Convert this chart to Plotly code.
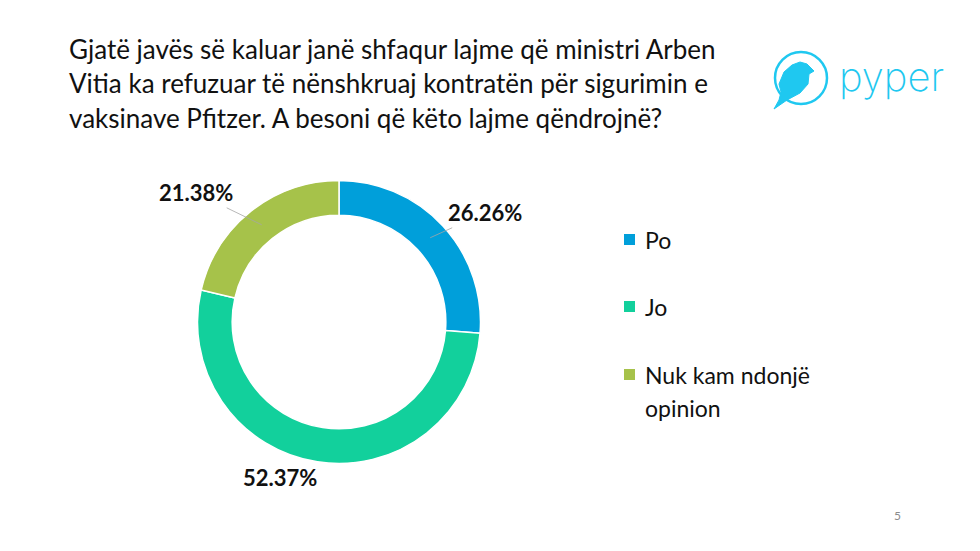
import math
import plotly.graph_objects as go

# ---- data ----
categories = ["Po", "Jo", "Nuk kam ndonjë opinion"]
legend_lines = [["Po"], ["Jo"], ["Nuk kam ndonjë", "opinion"]]
values = [26.26, 52.37, 21.38]
colors = ["#009FDA", "#12D09C", "#A6C24A"]
title_lines = [
    "Gjatë javës së kaluar janë shfaqur lajme që ministri Arben",
    "Vitia ka refuzuar të nënshkruaj kontratën për sigurimin e",
    "vaksinave Pfitzer. A besoni që këto lajme qëndrojnë?",
]

W, H = 980, 551
CX, CY, R = 339, 322, 141.5
HOLE = 0.755
FONT = "Lato"


def px(x):
    return x / W


def py(y):
    return 1 - y / H


fig = go.Figure()
fig.add_trace(go.Pie(
    labels=categories, values=values, hole=HOLE, sort=False,
    direction="clockwise", rotation=0,
    marker=dict(colors=colors, line=dict(color="white", width=1.5)),
    textinfo="none", hoverinfo="label+percent", showlegend=False,
    domain=dict(x=[px(CX - R), px(CX + R)], y=[py(CY + R), py(CY - R)]),
))

annotations = []
shapes = []

# title
for i, line in enumerate(title_lines):
    annotations.append(dict(
        x=px(67), y=py(49 + i * 34.5), xref="paper", yref="paper",
        xanchor="left", yanchor="middle", showarrow=False, text=line,
        font=dict(family=FONT, size=26, color="#111111")))

# data labels
total = sum(values)
label_offsets = [(55, -25, True), (-59, 0, False), (-66, -32, True)]
cum = 0
rmid = (R + R * HOLE) / 2
for v, (ax, ay, arrow) in zip(values, label_offsets):
    theta = 2 * math.pi * (cum + v / 2) / total
    cum += v
    tx = CX + rmid * math.sin(theta)
    ty = CY - rmid * math.cos(theta)
    txt = f"<b>{v:.2f}%</b>"
    if arrow:
        annotations.append(dict(
            x=px(tx), y=py(ty), xref="paper", yref="paper", text=txt,
            showarrow=True, arrowhead=0, arrowwidth=0.8, arrowcolor="#A6A6A6",
            ax=ax, ay=ay, standoff=0,
            font=dict(family=FONT, size=22, color="#111111")))
    else:
        annotations.append(dict(
            x=px(280), y=py(477), xref="paper", yref="paper", text=txt,
            showarrow=False, xanchor="center", yanchor="middle",
            font=dict(family=FONT, size=22, color="#111111")))

# legend
leg_y = [240, 307, 375]
for col, lines, y in zip(colors, legend_lines, leg_y):
    shapes.append(dict(type="rect", xref="paper", yref="paper",
                       x0=px(624), x1=px(635), y0=py(y - 6), y1=py(y + 5),
                       fillcolor=col, line=dict(width=0)))
    for j, ln in enumerate(lines):
        annotations.append(dict(
            x=px(643), y=py(y + j * 33), xref="paper", yref="paper",
            xanchor="left", yanchor="middle", showarrow=False, text=ln,
            font=dict(family=FONT, size=23, color="#111111")))

# page number
annotations.append(dict(x=px(903), y=py(525), xref="paper", yref="paper",
                        showarrow=False, text="5",
                        font=dict(family=FONT, size=12, color="#8C8C8C")))

# logo
LOGO = "#1FC8F0"
shapes.append(dict(type="circle", xref="paper", yref="paper",
                   x0=px(775), x1=px(827), y0=py(104), y1=py(52),
                   line=dict(color=LOGO, width=2.5)))
bird = [(800, 62), (807, 64), (814, 71), (809, 74), (808, 84), (800, 93),
        (787, 100), (774, 109), (779, 100), (781, 92), (779, 84), (784, 72),
        (792, 65)]
path = "M " + " L ".join(f"{px(x)},{py(y)}" for x, y in bird) + " Z"
shapes.append(dict(type="path", xref="paper", yref="paper", path=path,
                   fillcolor=LOGO, line=dict(color=LOGO, width=1)))
annotations.append(dict(x=px(837), y=py(76), xref="paper", yref="paper",
                        xanchor="left", yanchor="middle", showarrow=False,
                        text="pyper",
                        font=dict(family="Inter", size=40, color=LOGO,
                                  weight=200)))

fig.update_layout(
    width=W, height=H, margin=dict(l=0, r=0, t=0, b=0),
    paper_bgcolor="white", plot_bgcolor="white",
    annotations=annotations, shapes=shapes, showlegend=False,
)
fig.write_html("out.html")
